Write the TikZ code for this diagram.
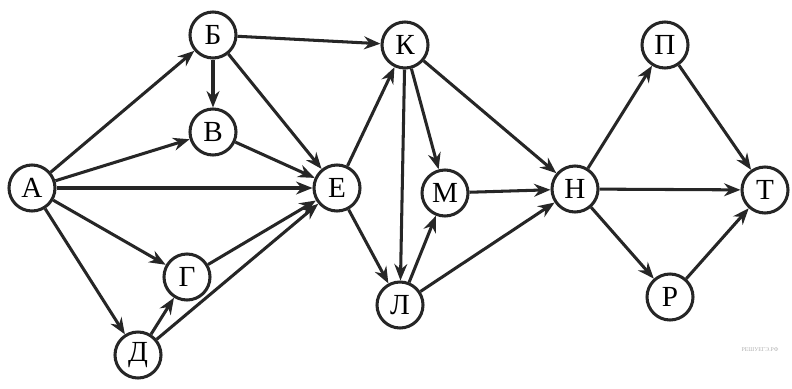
\documentclass[tikz,border=0pt]{standalone}
\usepackage{fontspec}
\setmainfont{Liberation Serif}
\usetikzlibrary{arrows.meta}
\begin{document}
\begin{tikzpicture}[x=0.03cm,y=-0.03cm,
  vtx/.style={circle,draw=black!85,line width=2.6pt,minimum size=1.38cm,inner sep=0pt,font=\Huge},
  edge/.style={draw=black!85,line width=2.6pt,-{Stealth[length=14pt,width=11pt]}}]
\useasboundingbox (0,0) rectangle (792,388);
\node[vtx] (A) at (32,188) {А};
\node[vtx] (B) at (213,35) {Б};
\node[vtx] (V) at (213,132) {В};
\node[vtx] (E) at (337,188) {Е};
\node[vtx] (G) at (187,277) {Г};
\node[vtx] (D) at (138,355) {Д};
\node[vtx] (K) at (405,45) {К};
\node[vtx] (L) at (400,305) {Л};
\node[vtx] (M) at (445,193) {М};
\node[vtx] (N) at (575,189) {Н};
\node[vtx] (P) at (665,45) {П};
\node[vtx] (R) at (670,297) {Р};
\node[vtx] (T) at (765,190) {Т};
\node[text=black!30,font=\tiny] (wm) at (760,350) {РЕШУЕГЭ.РФ};
\draw[edge] (A) -- (B);
\draw[edge] (A) -- (V);
\draw[edge] (A) -- (E);
\draw[edge] (A) -- (G);
\draw[edge] (A) -- (D);
\draw[edge] (B) -- (V);
\draw[edge] (B) -- (E);
\draw[edge] (B) -- (K);
\draw[edge] (V) -- (E);
\draw[edge] (G) -- (E);
\draw[edge] (D) -- (G);
\draw[edge] (D) -- (E);
\draw[edge] (E) -- (K);
\draw[edge] (E) -- (L);
\draw[edge] (K) -- (L);
\draw[edge] (K) -- (M);
\draw[edge] (K) -- (N);
\draw[edge] (L) -- (M);
\draw[edge] (L) -- (N);
\draw[edge] (M) -- (N);
\draw[edge] (N) -- (P);
\draw[edge] (N) -- (T);
\draw[edge] (N) -- (R);
\draw[edge] (P) -- (T);
\draw[edge] (R) -- (T);
\end{tikzpicture}
\end{document}
